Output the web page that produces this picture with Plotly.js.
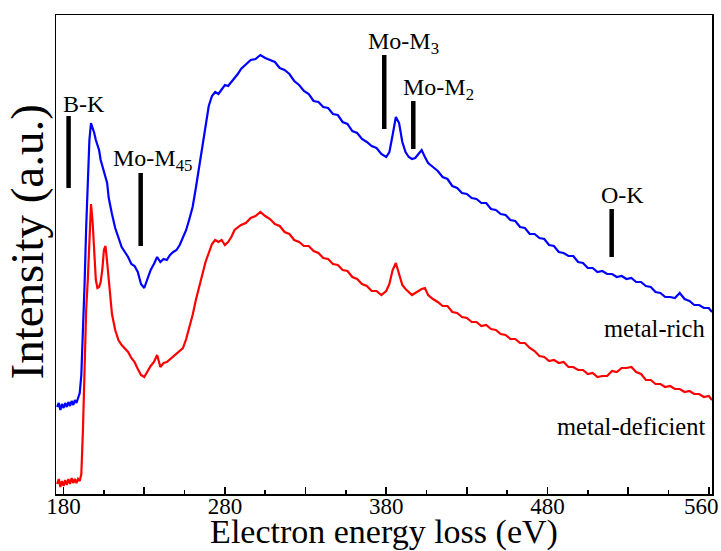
<!DOCTYPE html>
<html>
<head>
<meta charset="utf-8">
<script src="https://cdn.plot.ly/plotly-3.0.1.min.js"></script>
<style>html,body{margin:0;padding:0;background:#fff;}#chart{width:721px;height:551px;}</style>
</head>
<body>
<div id="chart"></div>
<script>
// Energy loss (eV), shared by both spectra
const energy = [176,177,178,179,180,181,182,183,184,185,186,187,188,189,190,191,192,193,194,195,196,197,198,199,200,201,202,203,204,205,206,207,208,209,210,
212,214,216,218,220,222,224,226,228,230,232,234,236,238,240,242,244,246,248,250,252,254,256,258,260,262,264,266,268,270,272,274,276,278,280,282,284,286,288,290,
293,296,299,302,305,308,311,314,317,320,323,326,329,332,335,338,341,344,347,350,353,356,359,362,365,368,371,374,377,380,
382,384,386,388,390,392,394,396,398,400,402,404,406,
409,412,415,418,421,424,427,430,433,436,439,442,445,448,451,454,457,460,463,466,469,472,475,478,481,484,487,490,493,496,499,502,505,508,511,514,517,520,523,526,529,532,535,538,541,544,547,550,553,556,559,562,565,568,571,574,577,580,582];

// Intensity (a.u., offset spectra)
const metalRich = [87,91,84,90,86,91,87,92,88,93,89,94,91,96,101,119,159,209,266,319,354,371,367,361,354,350,344,334,328,322,318,311,296,286,280,
266,256,247,242,237,230,228,222,210,206,216,224,230,237,232,235,234,239,242,244,249,257,264,275,287,306,326,349,368,388,398,402,400,404,409,408,412,415,420,425,
430,434,435,439,436,434,432,426,424,420,413,409,403,400,393,392,387,386,380,379,372,370,363,361,355,352,348,346,340,337,
342,359,377,371,352,342,337,335,336,340,344,337,331,
327,323,317,315,308,306,301,300,296,295,291,291,285,284,280,279,274,273,267,266,260,260,256,255,249,248,242,241,238,238,232,231,226,226,222,223,220,220,217,218,215,216,212,212,208,207,202,201,197,197,196,201,195,193,189,189,186,186,182];

const metalDeficient = [10,15,7,13,8,14,9,15,10,16,11,15,11,15,13,20,64,134,184,214,254,290,272,236,214,206,207,212,224,244,248,232,212,196,180,
164,154,149,145,142,136,132,125,119,117,123,128,132,139,127,131,132,135,137,140,143,146,155,167,179,194,207,220,232,241,250,254,252,254,249,252,257,264,267,269,
271,276,278,282,278,275,270,268,262,260,254,252,248,248,243,241,236,235,230,229,224,223,217,215,210,208,203,203,199,203,
210,224,231,221,209,205,202,199,201,203,205,206,199,
195,192,188,188,182,181,177,176,172,172,168,169,165,164,160,159,155,155,151,151,146,143,138,137,133,134,131,132,127,127,124,124,120,121,117,118,118,123,122,126,126,127,122,120,114,114,110,110,107,108,105,105,102,103,100,100,97,98,94];

// Axis ticks
const tickVals = [180,230,280,330,380,430,480,530,580];
const tickText = ['180','','280','','380','','480','','560'];
const minorTickVals = [205,255,305,355,405,455,505,555];

// Edge markers
const edgeLabels = ['B-K','Mo-M<sub>45</sub>','Mo-M<sub>3</sub>','Mo-M<sub>2</sub>','O-K'];
const edgeBarE = [183.1, 227.8, 378.8, 396.8, 519.8];
const edgeBarLow = [306, 248, 365, 345, 237];
const edgeBarHigh = [378, 321, 439, 393, 285];
const edgeLabelE = [178.6, 209.3, 367.6, 389.3, 511.7];
const edgeLabelI = [390, 334, 451, 405, 299];

const seriesNames = ['metal-rich','metal-deficient'];
const seriesLabelI = [166, 68];

const yTitle = 'Intensity (a.u.)';
const xTitle = 'Electron energy loss (eV)';

const FONT = 'Liberation Serif, DejaVu Serif, serif';

const traces = [
  {x: energy, y: metalRich, type: 'scatter', mode: 'lines', name: seriesNames[0],
   line: {color: '#0000ff', width: 2.2}},
  {x: energy, y: metalDeficient, type: 'scatter', mode: 'lines', name: seriesNames[1],
   line: {color: '#ff0000', width: 2.2}}
];

const shapes = edgeBarE.map((e, i) => ({
  type: 'line', xref: 'x', yref: 'y', x0: e, x1: e, y0: edgeBarLow[i], y1: edgeBarHigh[i],
  line: {color: '#000', width: 4.5}
}));

const annotations = edgeLabels.map((t, i) => ({
  text: t, xref: 'x', yref: 'y', x: edgeLabelE[i], y: edgeLabelI[i],
  xanchor: 'left', yanchor: 'middle', showarrow: false,
  font: {family: FONT, size: 24, color: '#000'}
}));
seriesNames.forEach((n, i) => annotations.push({
  text: n, xref: 'paper', yref: 'y', x: 0.992, y: seriesLabelI[i],
  xanchor: 'right', yanchor: 'middle', showarrow: false,
  font: {family: FONT, size: 24.5, color: '#000'}
}));
// last tick label, kept inside the page as in the reference
annotations.push({
  text: tickText[tickText.length - 1], xref: 'paper', yref: 'paper', x: 1.0, y: 0,
  xanchor: 'right', yanchor: 'top', xshift: 9, yshift: 2, showarrow: false,
  font: {family: FONT, size: 23, color: '#000'}
});
// y-axis title, sitting slightly above centre as in the reference
annotations.push({
  text: yTitle, xref: 'paper', yref: 'paper', x: 0, y: 0.525,
  xanchor: 'center', yanchor: 'middle', xshift: -29, textangle: -90, showarrow: false,
  font: {family: FONT, size: 47, color: '#000'}
});

const layout = {
  width: 721, height: 551,
  margin: {l: 56, r: 9, t: 15, b: 57},
  paper_bgcolor: '#fff', plot_bgcolor: '#fff',
  showlegend: false,
  font: {family: FONT, color: '#000'},
  xaxis: {
    range: [175.3, 582], tickmode: 'array', tickvals: tickVals,
    ticktext: tickText.slice(0, -1).concat(['']),
    ticks: 'inside', ticklen: 7, tickwidth: 1.5, tickcolor: '#000',
    ticklabelstandoff: -9,
    minor: {tickmode: 'array', tickvals: minorTickVals, ticks: 'inside', ticklen: 4, tickwidth: 1.5, tickcolor: '#000'},
    showline: true, linecolor: '#000', linewidth: 1.5, mirror: true,
    showgrid: false, zeroline: false,
    tickfont: {family: FONT, size: 23, color: '#000'},
    title: {text: xTitle, font: {family: FONT, size: 34, color: '#000'}, standoff: 7}
  },
  yaxis: {
    range: [0, 479], showticklabels: false, ticks: '',
    showline: true, linecolor: '#000', linewidth: 1.5, mirror: true,
    showgrid: false, zeroline: false
  },
  shapes: shapes,
  annotations: annotations
};

Plotly.newPlot('chart', traces, layout, {staticPlot: true, displayModeBar: false});
</script>
</body>
</html>
